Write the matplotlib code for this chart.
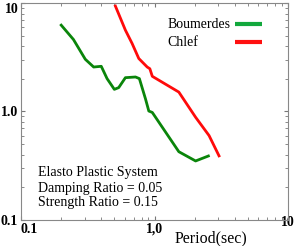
import matplotlib.pyplot as plt
from matplotlib.ticker import FixedLocator, LogLocator, NullFormatter

# Boumerdes record
bou_period = [0.200, 0.247, 0.303, 0.350, 0.399, 0.441, 0.500, 0.539, 0.605,
              0.720, 0.770, 0.855, 0.906, 0.962, 1.52, 2.03, 2.53]
bou_value = [6.25, 4.61, 3.03, 2.57, 2.61, 2.01, 1.60, 1.66, 2.05,
             2.08, 2.01, 1.31, 1.01, 0.98, 0.426, 0.35, 0.389]

# Chlef record
chl_period = [0.509, 0.605, 0.679, 0.762, 0.881, 0.922, 0.962, 1.52, 2.03, 2.56, 3.04]
chl_value = [9.38, 5.62, 4.24, 3.08, 2.57, 2.48, 2.11, 1.51, 0.885, 0.60, 0.39]

xticks = [0.1, 1.0, 10]
xlabels = ['0.1', '1,0', '10']
yticks = [0.1, 1.0, 10]
ylabels = ['0.1', '1.0', '10']

series_names = ['Boumerdes', 'Chlef']
legend_colors = ['#12a83c', '#ff1010']

notes = ['Elasto Plastic System', 'Damping Ratio = 0.05', 'Strength Ratio = 0.15']

plt.rcParams['font.family'] = ['Liberation Serif', 'DejaVu Serif']

fig = plt.figure(figsize=(2.97, 2.46), dpi=100)
ax = fig.add_axes([0.0707, 0.1057, 0.8993, 0.8821])

ax.plot(bou_period, bou_value, color='#0a850a', lw=2.0)
ax.plot(chl_period, chl_value, color='#ff0a0a', lw=2.0)

ax.set_xscale('log')
ax.set_yscale('log')
ax.set_xlim(0.1, 10)
ax.set_ylim(0.1, 10)

ax.xaxis.set_major_locator(FixedLocator(xticks))
ax.yaxis.set_major_locator(FixedLocator(yticks))
ax.set_xticklabels(xlabels, fontweight='bold', fontsize=10)
ax.set_yticklabels(ylabels, fontweight='bold', fontsize=10)
ax.xaxis.set_minor_locator(LogLocator(base=10, subs=range(2, 10)))
ax.yaxis.set_minor_locator(LogLocator(base=10, subs=range(2, 10)))
ax.xaxis.set_minor_formatter(NullFormatter())
ax.yaxis.set_minor_formatter(NullFormatter())
ax.tick_params(which='both', direction='in', top=True, right=True, color='#777777')
ax.tick_params(which='major', length=3, pad=2)
ax.tick_params(which='minor', length=2)
for s in ax.spines.values():
    s.set_color('#888888')

xl = ax.get_xticklabels()
xl[0].set_ha('left')
xl[-1].set_va('center')
ax.get_yticklabels()[-1].set_va('top')

ax.set_xlabel('Period(sec)', fontsize=11.5, va='center')
ax.xaxis.set_label_coords(0.71, -0.083)

ys = [0.217, 0.147, 0.081]
for t, y in zip(notes, ys):
    ax.text(0.064, y, t, transform=ax.transAxes, fontsize=10, va='center')

# legend: left-aligned names, short lines on the right
leg_y = [0.899, 0.816]
for name, c, y in zip(series_names, legend_colors, leg_y):
    ax.text(0.548, y, name, transform=ax.transAxes, fontsize=10, va='center')
    ax.plot([0.803, 0.903], [y + 0.003, y + 0.003], transform=ax.transAxes,
            color=c, lw=3, solid_capstyle='butt')

fig.savefig('out.png', dpi=100)
